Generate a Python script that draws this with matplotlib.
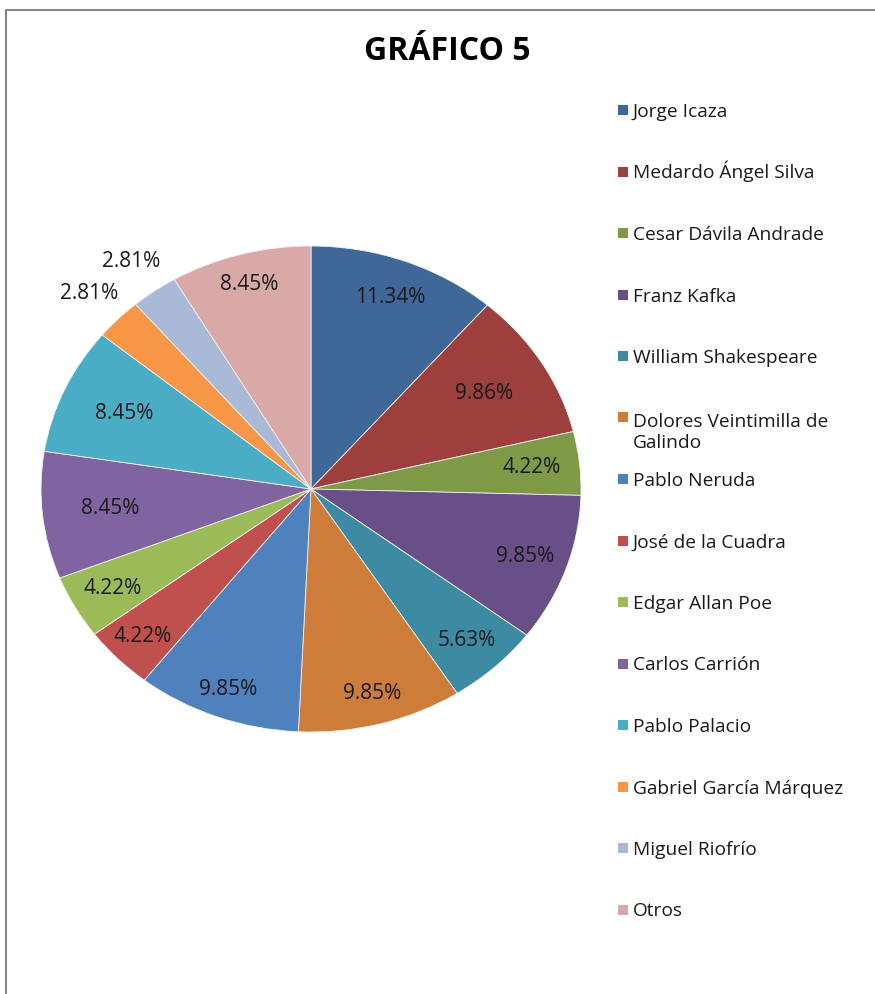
import numpy as np
import matplotlib
matplotlib.use("Agg")
import matplotlib.pyplot as plt
from matplotlib.lines import Line2D
from matplotlib.patches import Rectangle

# ---- data ----
authors = ["Jorge Icaza", "Medardo Ángel Silva", "Cesar Dávila Andrade", "Franz Kafka",
           "William Shakespeare", "Dolores Veintimilla de\nGalindo", "Pablo Neruda",
           "José de la Cuadra", "Edgar Allan Poe", "Carlos Carrión", "Pablo Palacio",
           "Gabriel García Márquez", "Miguel Riofrío", "Otros"]
percentages = [11.34, 9.86, 4.22, 9.85, 5.63, 9.85, 9.85, 4.22, 4.22, 8.45, 8.45, 2.81, 2.81, 8.45]
pct_labels = ["11.34%", "9.86%", "4.22%", "9.85%", "5.63%", "9.85%", "9.85%",
              "4.22%", "4.22%", "8.45%", "8.45%", "2.81%", "2.81%", "8.45%"]
title = "GRÁFICO 5"

# ---- styles ----
colors = ["#3F6898", "#9C3F3D", "#7E9A46", "#684F87", "#3D8BA3", "#CD7D39", "#4F81BD",
          "#C0504D", "#9BBB59", "#8064A2", "#4BACC6", "#F79646", "#AAB9D6", "#D9A9A8"]
label_dist = [0.84, 0.75, 0.82, 0.84, 0.85, 0.87, 0.88, 0.87, 0.84, 0.75, 0.76, 1.15, 1.15, 0.87]

W, H = 875, 994
fig = plt.figure(figsize=(W / 100, H / 100), dpi=100)
fig.patch.set_facecolor("white")

font = "Open Sans"

# pie axes: centre (311, 489) px, rx 270, ry 243
cx, cy, rx, ry = 311, 489, 270, 243
ax = fig.add_axes([(cx - rx) / W, (H - (cy + ry)) / H, 2 * rx / W, 2 * ry / H])
wedges, _ = ax.pie(percentages, colors=colors, startangle=90, counterclock=False,
                   radius=1.0, wedgeprops=dict(edgecolor="#f0f0f0", linewidth=0.6))
ax.set_aspect("auto")
ax.set_xlim(-1, 1)
ax.set_ylim(-1, 1)
ax.axis("off")

for w, lab, d in zip(wedges, pct_labels, label_dist):
    ang = np.deg2rad((w.theta1 + w.theta2) / 2)
    ax.text(d * np.cos(ang), d * np.sin(ang), lab, ha="center", va="center",
            fontsize=15, family=font, color="#1a1a1a", clip_on=False)

# title
fig.text(447 / W, 1 - 51 / H, title, ha="center", va="center", fontsize=23,
         fontweight="bold", family=font, color="black")

# legend
y0, step, line_h = 110, 61.5, 24
fs_leg = 13.8
for i, (name, col) in enumerate(zip(authors, colors)):
    yc = y0 + i * step
    nlines = name.count("\n")
    fig.add_artist(Rectangle((618 / W, 1 - (yc + 5) / H), 10 / W, 10 / H,
                             transform=fig.transFigure, facecolor=col, edgecolor="none"))
    fig.text(633 / W, 1 - (yc + 7 + nlines * line_h) / H, name, ha="left", va="baseline",
             fontsize=fs_leg, family=font, color="#1a1a1a",
             linespacing=line_h / (fs_leg * 100 / 72))

# chart border (left and top visible)
fig.add_artist(Line2D([5.5 / W, 5.5 / W, 1.0], [0.0, 1 - 10 / H, 1 - 10 / H],
                      transform=fig.transFigure, color="#868686", linewidth=1.5))

fig.savefig("out.png", dpi=100)
